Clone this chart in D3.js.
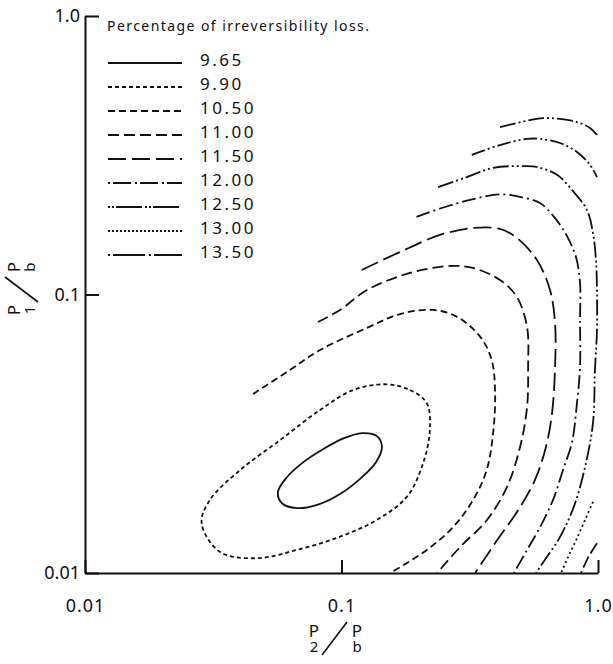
<!DOCTYPE html>
<html>
<head>
<meta charset="utf-8">
<script src="https://cdn.jsdelivr.net/npm/d3@7"></script>
<style>
  body { margin: 0; background: #fff; }
  text { font-family: "Noto Sans", "DejaVu Sans", sans-serif; fill: #111; }
</style>
</head>
<body>
<div id="chart"></div>
<script>
'use strict';

// contour levels (percentage of irreversibility loss)
var levels = ["9.65", "9.90", "10.50", "11.00", "11.50", "12.00", "12.50", "13.00", "13.50"];

var xTicks = [0.01, 0.1, 1];
var xTickLabels = ["0.01", "0.1", "1.0"];
var yTicks = [0.01, 0.1, 1];
var yTickLabels = ["0.01", "0.1", "1.0"];

// points are [P2/Pb, P1/Pb]
var contour965 = [[0.0565, 0.0195], [0.0608, 0.0219], [0.0702, 0.0248], [0.0840, 0.0277], [0.1023, 0.0305],
    [0.1202, 0.0318], [0.1375, 0.0310], [0.1438, 0.0284], [0.1363, 0.0250], [0.1202, 0.0221],
    [0.0987, 0.0192], [0.0810, 0.0176], [0.0671, 0.0171], [0.0586, 0.0178]];

var contour990 = [[0.150, 0.0476], [0.185, 0.0454], [0.215, 0.0407], [0.221, 0.0326], [0.208, 0.0248],
    [0.180, 0.0188], [0.137, 0.0155], [0.0987, 0.0135], [0.0669, 0.0121], [0.0467, 0.0113],
    [0.0336, 0.0119], [0.0285, 0.0151], [0.0307, 0.0183], [0.0402, 0.0234], [0.0576, 0.0300],
    [0.0825, 0.0385], [0.111, 0.0454]];

var contour1050 = [[0.0452, 0.0439], [0.0630, 0.0536], [0.0825, 0.0632], [0.1254, 0.0758], [0.169, 0.0851],
    [0.227, 0.0880], [0.281, 0.0833], [0.347, 0.0706], [0.385, 0.0582], [0.397, 0.0443],
    [0.390, 0.0318], [0.368, 0.0234], [0.326, 0.0183], [0.272, 0.0146], [0.215, 0.0121], [0.155, 0.0100]];

var contour1100 = [[0.0810, 0.0797], [0.0987, 0.0880], [0.1257, 0.1038], [0.185, 0.1195], [0.265, 0.1266],
    [0.326, 0.1245], [0.415, 0.1127], [0.483, 0.0980], [0.529, 0.0764], [0.534, 0.0549],
    [0.529, 0.0394], [0.497, 0.0284], [0.442, 0.0204], [0.369, 0.0155], [0.290, 0.0124], [0.236, 0.0100]];

var contour1150 = [[0.1199, 0.1225], [0.169, 0.1421], [0.242, 0.1636], [0.326, 0.1733], [0.415, 0.1719],
    [0.483, 0.1596], [0.578, 0.1330], [0.650, 0.1038], [0.680, 0.0790], [0.680, 0.0549],
    [0.662, 0.0375], [0.627, 0.0284], [0.568, 0.0216], [0.488, 0.0168], [0.404, 0.0131], [0.332, 0.0100]];

var contour1200 = [[0.196, 0.190], [0.257, 0.207], [0.326, 0.220], [0.415, 0.229], [0.497, 0.224],
    [0.594, 0.213], [0.680, 0.188], [0.757, 0.162], [0.821, 0.136], [0.851, 0.110], [0.851, 0.0810],
    [0.851, 0.0549], [0.828, 0.0408], [0.792, 0.0295], [0.730, 0.0234], [0.668, 0.0183],
    [0.594, 0.0146], [0.529, 0.0121], [0.470, 0.0100]];

var contour1250 = [[0.238, 0.243], [0.308, 0.264], [0.390, 0.285], [0.510, 0.289], [0.578, 0.287],
    [0.692, 0.269], [0.799, 0.235], [0.906, 0.201], [0.956, 0.166], [0.982, 0.133], [0.991, 0.1012],
    [0.991, 0.0746], [0.973, 0.0536], [0.956, 0.0346], [0.890, 0.0240], [0.814, 0.0178],
    [0.744, 0.0146], [0.699, 0.0131], [0.627, 0.0113], [0.573, 0.0100]];

var contour1300Upper = [[0.322, 0.317], [0.415, 0.344], [0.529, 0.362], [0.594, 0.362], [0.711, 0.350],
    [0.828, 0.325], [0.931, 0.292], [0.991, 0.264]];
var contour1300Lower = [[0.956, 0.0180], [0.890, 0.0155], [0.821, 0.0131], [0.764, 0.0114], [0.718, 0.0100]];

var contour1350Upper = [[0.415, 0.399], [0.543, 0.423], [0.610, 0.430], [0.711, 0.427], [0.828, 0.416],
    [0.931, 0.396], [0.991, 0.374]];
var contour1350Lower = [[0.991, 0.0128], [0.922, 0.0115], [0.858, 0.0100]];

var outerWidth = 613;
var outerHeight = 664;
var margin = { left: 85, top: 16, right: 15, bottom: 91 };
var innerWidth = outerWidth - margin.left - margin.right;
var innerHeight = outerHeight - margin.top - margin.bottom;

var dashFor = {
    "9.65": null,
    "9.90": "4,3",
    "10.50": "7,4",
    "11.00": "11,5",
    "11.50": "18,6",
    "12.00": "14,4,2,4",
    "12.50": "16,3,2,3,2,3",
    "13.00": "2,3",
    "13.50": "20,4,2,4"
};
var legendDash = {
    "12.00": "2,3,18,4",
    "12.50": "2,2,2,2,26,3",
    "13.00": "2,2",
    "13.50": "2,3,32,4"
};

var contours = [
    { level: "9.65", points: contour965, closed: true },
    { level: "9.90", points: contour990, closed: true },
    { level: "10.50", points: contour1050 },
    { level: "11.00", points: contour1100 },
    { level: "11.50", points: contour1150 },
    { level: "12.00", points: contour1200 },
    { level: "12.50", points: contour1250 },
    { level: "13.00", points: contour1300Upper, dash: "14,3,2,3,2,3" },
    { level: "13.00", points: contour1300Lower },
    { level: "13.50", points: contour1350Upper, dash: "16,3,2,3,2,3" },
    { level: "13.50", points: contour1350Lower, dash: "12,4" }
];

var svg = d3.select("#chart").append("svg")
    .attr("width", outerWidth)
    .attr("height", outerHeight)
    .style("display", "block");

var g = svg.append("g")
    .attr("transform", "translate(" + margin.left + "," + margin.top + ")");

var x = d3.scaleLog().domain([0.01, 1]).range([0, innerWidth]);
var y = d3.scaleLog().domain([0.01, 1]).range([innerHeight, 0]);

svg.append("defs").append("clipPath").attr("id", "plot-clip")
    .append("rect")
    .attr("x", 0).attr("y", -2)
    .attr("width", innerWidth + 1).attr("height", innerHeight + 2);

var openLine = d3.line()
    .x(function(d) { return x(d[0]); })
    .y(function(d) { return y(d[1]); })
    .curve(d3.curveCatmullRom.alpha(0.5));
var closedLine = d3.line()
    .x(function(d) { return x(d[0]); })
    .y(function(d) { return y(d[1]); })
    .curve(d3.curveCatmullRomClosed.alpha(0.5));

g.append("g").attr("clip-path", "url(#plot-clip)")
    .selectAll("path")
    .data(contours)
    .enter().append("path")
    .attr("d", function(d) { return d.closed ? closedLine(d.points) : openLine(d.points); })
    .attr("fill", "none")
    .attr("stroke", "#111")
    .attr("stroke-width", 1.8)
    .attr("stroke-dasharray", function(d) { return d.dash || dashFor[d.level]; });

// axes, ticks point inwards
var xAxis = d3.axisBottom(x)
    .tickValues(xTicks)
    .tickFormat(function(d, i) { return xTickLabels[i]; })
    .tickSizeInner(-13)
    .tickSizeOuter(0)
    .tickPadding(26);
var yAxis = d3.axisLeft(y)
    .tickValues(yTicks)
    .tickFormat(function(d, i) { return yTickLabels[i]; })
    .tickSizeInner(-14)
    .tickSizeOuter(0)
    .tickPadding(5);

var xg = g.append("g").attr("transform", "translate(0," + innerHeight + ")").call(xAxis);
var yg = g.append("g").call(yAxis);

[xg, yg].forEach(function(ax) {
    ax.attr("font-family", null).attr("font-size", null);
    ax.select(".domain").attr("stroke", "#111").attr("stroke-width", 2);
    ax.selectAll(".tick line").attr("stroke", "#111").attr("stroke-width", 2);
    ax.selectAll(".tick text").attr("font-size", 18).attr("fill", "#111");
});
xg.selectAll(".tick text").attr("letter-spacing", 1);

// legend
var legend = svg.append("g").attr("transform", "translate(107,0)");
legend.append("text")
    .attr("x", 0).attr("y", 31)
    .attr("font-size", 14)
    .attr("textLength", 262)
    .attr("lengthAdjust", "spacing")
    .text("Percentage of irreversibility loss.");

var row = legend.selectAll(".row")
    .data(levels)
    .enter().append("g")
    .attr("class", "row")
    .attr("transform", function(d, i) { return "translate(0," + (60 + i * 24) + ")"; });

row.append("line")
    .attr("x1", 1).attr("x2", 75)
    .attr("y1", 3).attr("y2", 3)
    .attr("stroke", "#111")
    .attr("stroke-width", 1.8)
    .attr("stroke-dasharray", function(d) { return legendDash[d] || dashFor[d]; });

row.append("text")
    .attr("x", 93).attr("dy", "0.36em")
    .attr("font-size", 17)
    .attr("letter-spacing", 2.5)
    .text(function(d) { return d; });

// axis titles: P over subscript, slash, P over subscript b
function ratioLabel(sel, sub) {
    sel.append("text").attr("x", -26).attr("y", -3).attr("text-anchor", "middle").attr("font-size", 17).text("P");
    sel.append("text").attr("x", -26).attr("y", 12).attr("text-anchor", "middle").attr("font-size", 15).text(sub);
    sel.append("line")
        .attr("x1", -18).attr("y1", 15).attr("x2", 7).attr("y2", -18)
        .attr("stroke", "#111").attr("stroke-width", 1.6);
    sel.append("text").attr("x", 17).attr("y", -3).attr("text-anchor", "middle").attr("font-size", 17).text("P");
    sel.append("text").attr("x", 17).attr("y", 12).attr("text-anchor", "middle").attr("font-size", 15).text("b");
}

ratioLabel(svg.append("g").attr("transform", "translate(340,640)"), "2");
ratioLabel(svg.append("g").attr("transform", "translate(23,284) rotate(-90)"), "1");
</script>
</body>
</html>
